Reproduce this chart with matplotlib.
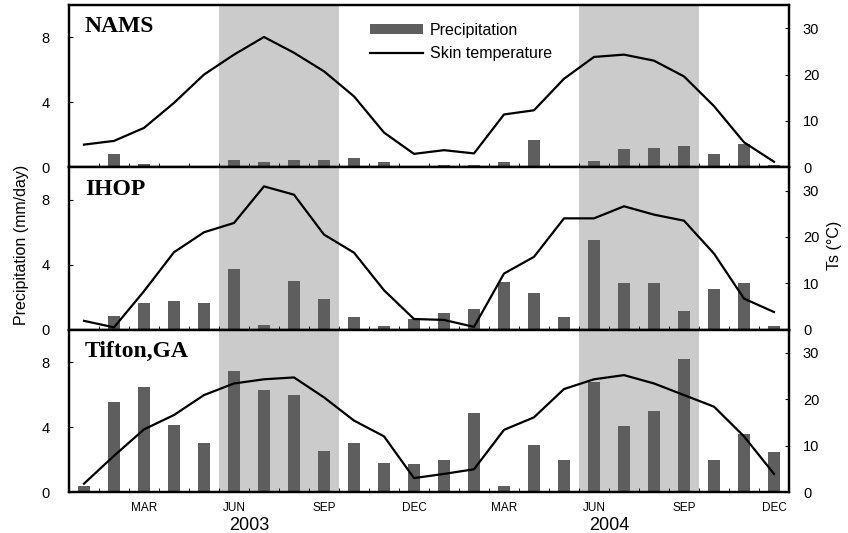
import numpy as np
import matplotlib
matplotlib.use("Agg")
import matplotlib.pyplot as plt
from matplotlib.lines import Line2D
from matplotlib.patches import Patch

months = np.arange(24)
month_tick_pos = [2, 5, 8, 11, 14, 17, 20, 23]
month_tick_labels = ["MAR", "JUN", "SEP", "DEC", "MAR", "JUN", "SEP", "DEC"]
year_labels = ["2003", "2004"]
year_pos = [5.5, 17.5]
station_names = ["NAMS", "IHOP", "Tifton,GA"]

nams_precip = [0.0, 0.8, 0.18, 0.03, 0.03, 0.43, 0.33, 0.43, 0.43, 0.55, 0.3, 0.03,
               0.15, 0.15, 0.3, 1.7, 0.0, 0.4, 1.1, 1.2, 1.3, 0.8, 1.45, 0.15]
nams_temp = [4.9, 5.7, 8.5, 13.9, 20.0, 24.3, 28.1, 24.7, 20.7, 15.3, 7.5, 2.9,
             3.7, 3.0, 11.4, 12.3, 19.1, 23.8, 24.3, 23.0, 19.6, 13.2, 5.4, 1.2]

ihop_precip = [0.0, 0.85, 1.65, 1.75, 1.65, 3.75, 0.3, 3.0, 1.9, 0.75, 0.25, 0.65,
               1.0, 1.25, 2.95, 2.25, 0.75, 5.55, 2.85, 2.85, 1.15, 2.5, 2.85, 0.25]
ihop_temp = [1.9, 0.5, 8.3, 16.7, 21.0, 23.0, 30.9, 29.1, 20.5, 16.6, 8.5, 2.3,
             2.1, 0.6, 12.1, 15.7, 24.0, 24.0, 26.6, 24.8, 23.5, 16.4, 6.7, 3.8]

tifton_precip = [0.35, 5.55, 6.45, 4.1, 3.0, 7.45, 6.3, 5.95, 2.55, 3.0, 1.8, 1.7,
                 1.95, 4.85, 0.35, 2.9, 1.95, 6.75, 4.05, 5.0, 8.2, 1.95, 3.55, 2.45]
tifton_temp = [1.8, 7.8, 13.5, 16.6, 20.9, 23.4, 24.3, 24.7, 20.4, 15.4, 12.0, 3.0,
               3.9, 4.9, 13.4, 16.1, 22.2, 24.3, 25.2, 23.4, 20.9, 18.4, 12.0, 3.9]

precips = [nams_precip, ihop_precip, tifton_precip]
temps = [nams_temp, ihop_temp, tifton_temp]
summer_spans = [(4.5, 8.5), (16.5, 20.5)]

W, H = 848, 533
fig = plt.figure(figsize=(W / 100, H / 100), dpi=100)
left, right = 69 / W, 789 / W
top_px, bot_px = 5, 492
ph = (bot_px - top_px) / 3

sans = "Liberation Sans"
serif = "Liberation Serif"
bar_color = "#5e5e5e"
shade_color = "#cbcbcb"

axes = []
for i in range(3):
    y0 = 1 - (top_px + (i + 1) * ph) / H
    ax = fig.add_axes([left, y0, right - left, ph / H])
    ax2 = ax.twinx()
    for (a, b) in summer_spans:
        ax.axvspan(a, b, color=shade_color, lw=0, zorder=0)
    ax.bar(months, precips[i], width=0.4, color=bar_color, zorder=2)
    ax.set_ylim(0, 10)
    ax.set_xlim(-0.5, 23.5)
    ax.set_yticks([0, 4, 8])
    ax.tick_params(axis="y", direction="in", length=3, labelsize=10.5, pad=14)
    for lab in ax.get_yticklabels():
        lab.set_fontfamily(sans)
    ax2.plot(months, temps[i], color="black", lw=1.6, zorder=3)
    ax2.set_ylim(0, 35)
    ax2.set_yticks([0, 10, 20, 30])
    ax2.tick_params(axis="y", direction="in", length=3, labelsize=10.5, pad=10)
    for lab in ax2.get_yticklabels():
        lab.set_fontfamily(sans)
    ax.set_xticks(month_tick_pos)
    ax.set_xticks(np.arange(0.5, 23, 1), minor=True)
    ax.tick_params(axis="x", which="minor", direction="in", length=3)
    ax.tick_params(axis="x", which="major", length=0, pad=7)
    if i < 2:
        ax.set_xticklabels([])
    else:
        ax.set_xticklabels(month_tick_labels, fontsize=8.5, fontfamily=sans)
    for a in (ax, ax2):
        for s in a.spines.values():
            s.set_linewidth(1.6)
    ax.text(0.022, 0.93, station_names[i], transform=ax.transAxes,
            fontsize=17, fontweight="bold", fontfamily=serif, va="top", ha="left", zorder=5)
    axes.append((ax, ax2))

# year labels
axb = axes[2][0]
for lab, xp in zip(year_labels, year_pos):
    axb.text(xp, -0.205, lab, transform=axb.get_xaxis_transform(), ha="center", va="center",
             fontsize=13, fontfamily=sans)

# legend in top panel
ax_top = axes[0][0]
handles = [Patch(facecolor=bar_color, edgecolor="none"), Line2D([0], [0], color="black", lw=1.6)]
leg = ax_top.legend(handles, ["Precipitation", "Skin temperature"], loc="upper left",
                    bbox_to_anchor=(0.398, 0.98), frameon=False, handlelength=3.3,
                    handleheight=0.6, handletextpad=0.45, labelspacing=0.55,
                    prop={"family": sans, "size": 11.5})
leg.set_zorder(6)

fig.text(22 / W, 1 - 245 / H, "Precipitation (mm/day)", rotation=90, ha="center", va="center",
         fontsize=11.5, fontfamily=sans)
fig.text(834 / W, 1 - 245 / H, "Ts (°C)", rotation=90, ha="center", va="center",
         fontsize=11.5, fontfamily=sans)

fig.savefig("out.png", dpi=100)
